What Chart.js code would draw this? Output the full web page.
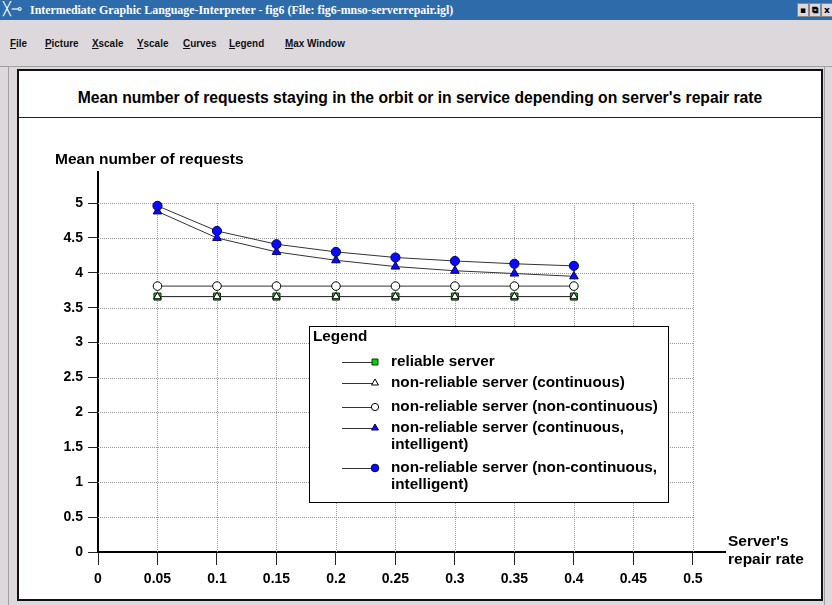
<!DOCTYPE html>
<html>
<head>
<meta charset="utf-8">
<script src="https://cdn.jsdelivr.net/npm/chart.js@4/dist/chart.umd.min.js"></script>
<style>
  html,body{margin:0;padding:0;}
  body{width:832px;height:605px;background:#dcd8dc;position:relative;overflow:hidden;font-family:"Liberation Sans",Arial,sans-serif;}
  #titlebar{position:absolute;left:0;top:0;width:832px;height:20px;background:#1d5c98;
    background-image:radial-gradient(#3f7fc0 0.6px, transparent 0.8px);background-size:2px 2px;}
  #titlebar .ttl{position:absolute;left:30px;top:3px;color:#fff;font-family:"Liberation Serif","DejaVu Serif",serif;font-weight:bold;font-size:11.9px;line-height:14px;white-space:nowrap;}
  #titlebar .ico{position:absolute;left:3px;top:1px;color:#fff;font-family:"DejaVu Sans",sans-serif;font-size:13px;line-height:16px;}
  .btn{position:absolute;top:3px;width:10px;height:12px;background:#dcd8dc;border:1px solid #888;font-size:9px;line-height:12px;text-align:center;font-weight:bold;color:#000;font-family:"DejaVu Sans",sans-serif;}
  #menubar{position:absolute;left:0;top:20px;width:832px;height:46px;border-bottom:1px solid #a0a0a0;}
  .mi{position:absolute;top:17px;font-size:11px;font-weight:bold;color:#111;white-space:nowrap;font-family:"Liberation Sans Narrow","Liberation Sans",Arial,sans-serif;transform-origin:left center;transform:scaleX(0.9);}
  .mi u{text-decoration:underline;}
  #leftline{position:absolute;left:8px;top:67px;width:1px;height:538px;background:#a0a0a0;}
  #rightline{position:absolute;left:824px;top:67px;width:1px;height:538px;background:#a0a0a0;}
  #frame{position:absolute;left:17px;top:69px;width:802px;height:528px;border:2px solid #111;background:#fff;}
  #charttitle{position:absolute;left:0;top:0;width:802px;height:46px;border-bottom:1px solid #222;text-align:center;font-weight:bold;font-size:15.7px;line-height:53px;color:#000;}
  #cv{position:absolute;left:20px;top:118px;}
  .lbl{position:absolute;font-weight:bold;font-size:15.5px;color:#000;white-space:nowrap;}
</style>
</head>
<body>
<div id="titlebar">
  <span class="ico">╳⊸</span>
  <span class="ttl">Intermediate Graphic Language-Interpreter - fig6 (File: fig6-mnso-serverrepair.igl)</span>
  <div class="btn" style="left:797px;">▪</div>
  <div class="btn" style="left:809px;">⧉</div>
  <div class="btn" style="left:821px;">x</div>
</div>
<div id="menubar">
  <span class="mi" style="left:10px;"><u>F</u>ile</span>
  <span class="mi" style="left:45px;"><u>P</u>icture</span>
  <span class="mi" style="left:92px;"><u>X</u>scale</span>
  <span class="mi" style="left:137px;"><u>Y</u>scale</span>
  <span class="mi" style="left:183px;"><u>C</u>urves</span>
  <span class="mi" style="left:229px;"><u>L</u>egend</span>
  <span class="mi" style="left:285px;"><u>M</u>ax Window</span>
</div>
<div id="leftline"></div>
<div id="rightline"></div>
<div id="frame">
  <div id="charttitle">Mean number of requests staying in the orbit or in service depending on server's repair rate</div>
</div>
<canvas id="cv" width="800" height="478"></canvas>
<div class="lbl" style="left:55px;top:150px;">Mean number of requests</div>
<div class="lbl" style="left:728px;top:532px;line-height:18px;">Server's<br>repair rate</div>

<script>
// ---- data ----
const repairRates = [0.05, 0.1, 0.15, 0.2, 0.25, 0.3, 0.35, 0.4];
const reliableServer = [3.66, 3.66, 3.66, 3.66, 3.66, 3.66, 3.66, 3.66];
const nonReliableContinuous = [3.66, 3.66, 3.66, 3.66, 3.66, 3.66, 3.66, 3.66];
const nonReliableNonContinuous = [3.81, 3.81, 3.81, 3.81, 3.81, 3.81, 3.81, 3.81];
const nonReliableContIntelligent = [4.88, 4.50, 4.30, 4.18, 4.09, 4.03, 3.99, 3.95];
const nonReliableNonContIntelligent = [4.96, 4.60, 4.41, 4.30, 4.22, 4.17, 4.13, 4.10];
const seriesLabels = [
  "reliable server",
  "non-reliable server (continuous)",
  "non-reliable server (non-continuous)",
  "non-reliable server (continuous, intelligent)",
  "non-reliable server (non-continuous, intelligent)"
];
const legendLines = [
  ["reliable server"],
  ["non-reliable server (continuous)"],
  ["non-reliable server (non-continuous)"],
  ["non-reliable server (continuous,", "intelligent)"],
  ["non-reliable server (non-continuous,", "intelligent)"]
];
const legendTitle = "Legend";
const xTickValues = [0, 0.05, 0.1, 0.15, 0.2, 0.25, 0.3, 0.35, 0.4, 0.45, 0.5];
const yTickValues = [0, 0.5, 1, 1.5, 2, 2.5, 3, 3.5, 4, 4.5, 5];

function pts(ys){ return repairRates.map((x,i)=>({x:x, y:ys[i]})); }

const styles = [
  {pointStyle:'rect', bg:'#00d000', bc:'#103010', r:5, lr:4.2, order:5},
  {pointStyle:'triangle', bg:'#ffffff', bc:'#000000', r:4.3, lr:4, order:4},
  {pointStyle:'circle', bg:'#ffffff', bc:'#000000', r:4.3, lr:3.6, order:3},
  {pointStyle:'triangle', bg:'#0a0aff', bc:'#000060', r:5, lr:4, order:2},
  {pointStyle:'circle', bg:'#0a0aff', bc:'#000060', r:4.6, lr:3.8, order:1}
];
const seriesData = [reliableServer, nonReliableContinuous, nonReliableNonContinuous, nonReliableContIntelligent, nonReliableNonContIntelligent];

const datasets = seriesData.map((d,i)=>({
  label: seriesLabels[i],
  data: pts(d),
  borderColor: '#333333',
  borderWidth: 1,
  pointStyle: styles[i].pointStyle,
  pointBackgroundColor: styles[i].bg,
  pointBorderColor: styles[i].bc,
  pointBorderWidth: 1,
  pointRadius: styles[i].r,
  pointHoverRadius: styles[i].r,
  fill: false,
  tension: 0,
  order: styles[i].order
}));

const XMAX_GRID = 0.5, YMAX_GRID = 5;

const gridPlugin = {
  id: 'dottedGrid',
  beforeDatasetsDraw(chart){
    const {ctx, scales:{x,y}} = chart;
    ctx.save();
    ctx.strokeStyle = '#9a9a9a';
    ctx.lineWidth = 1;
    ctx.setLineDash([1,1]);
    const x0 = x.getPixelForValue(0), x1 = x.getPixelForValue(XMAX_GRID);
    const y0 = y.getPixelForValue(0), y1 = y.getPixelForValue(YMAX_GRID);
    xTickValues.forEach(v=>{
      if (v===0) return;
      const px = Math.round(x.getPixelForValue(v))+0.5;
      ctx.beginPath(); ctx.moveTo(px, y0); ctx.lineTo(px, y1); ctx.stroke();
    });
    yTickValues.forEach(v=>{
      if (v===0) return;
      const py = Math.round(y.getPixelForValue(v))+0.5;
      ctx.beginPath(); ctx.moveTo(x0, py); ctx.lineTo(x1, py); ctx.stroke();
    });
    ctx.restore();
  }
};

const legendPlugin = {
  id: 'boxLegend',
  afterDraw(chart){
    const ctx = chart.ctx;
    const bx = 289, by = 208, bw = 359, bh = 176;
    ctx.save();
    ctx.fillStyle = '#ffffff';
    ctx.fillRect(bx, by, bw, bh);
    ctx.strokeStyle = '#000';
    ctx.lineWidth = 1;
    ctx.setLineDash([]);
    ctx.strokeRect(bx+0.5, by+0.5, bw, bh);
    ctx.fillStyle = '#000';
    ctx.font = 'bold 15.3px "Liberation Sans", Arial, sans-serif';
    ctx.textBaseline = 'middle';
    ctx.fillText(legendTitle, bx+4, by+11);
    const rowY = [36, 57, 81, 102, 142];
    legendLines.forEach((lines,i)=>{
      const cy = by + rowY[i];
      ctx.strokeStyle = '#333';
      ctx.lineWidth = 1;
      ctx.beginPath(); ctx.moveTo(bx+33, Math.round(cy)+0.5); ctx.lineTo(bx+64, Math.round(cy)+0.5); ctx.stroke();
      ctx.fillStyle = styles[i].bg;
      ctx.strokeStyle = styles[i].bc;
      Chart.helpers.drawPoint(ctx, {pointStyle: styles[i].pointStyle, radius: styles[i].lr, borderWidth:1, rotation:0}, bx+66, cy);
      ctx.fillStyle = '#000';
      lines.forEach((t,k)=>{ ctx.fillText(t, bx+82, cy + k*16.5); });
    });
    ctx.restore();
  }
};

const tickFont = {family:'"Liberation Sans", Arial, sans-serif', size:14, weight:'bold'};
const fmt = v => String(+(+v).toFixed(2));

new Chart(document.getElementById('cv'), {
  type: 'line',
  data: { datasets },
  plugins: [gridPlugin, legendPlugin],
  options: {
    responsive: false,
    animation: false,
    events: [],
    layout: { padding: {top: 54, right: 95, left: 0, bottom: 0} },
    plugins: { legend: {display:false}, tooltip:{enabled:false}, title:{display:false} },
    scales: {
      x: {
        type: 'linear',
        min: 0, max: 0.527,
        afterBuildTicks: s => { s.ticks = xTickValues.map(v=>({value:v})); },
        ticks: { callback: fmt, color:'#000', font: tickFont, padding: 6, maxRotation:0, autoSkip:false },
        grid: { drawOnChartArea:false, drawTicks:true, tickLength:13, color:'#222', lineWidth:1 },
        border: { display:true, color:'#000', width:2 },
        afterFit: s => { s.height = 44; }
      },
      y: {
        type: 'linear',
        min: 0, max: 5.445,
        afterBuildTicks: s => { s.ticks = yTickValues.map(v=>({value:v})); },
        ticks: { callback: fmt, color:'#000', font: tickFont, padding: 5, autoSkip:false },
        grid: { drawOnChartArea:false, drawTicks:true, tickLength:10, color:'#222', lineWidth:1 },
        border: { display:true, color:'#000', width:2 },
        afterFit: s => { s.width = 78; }
      }
    }
  }
});
</script>
</body>
</html>
